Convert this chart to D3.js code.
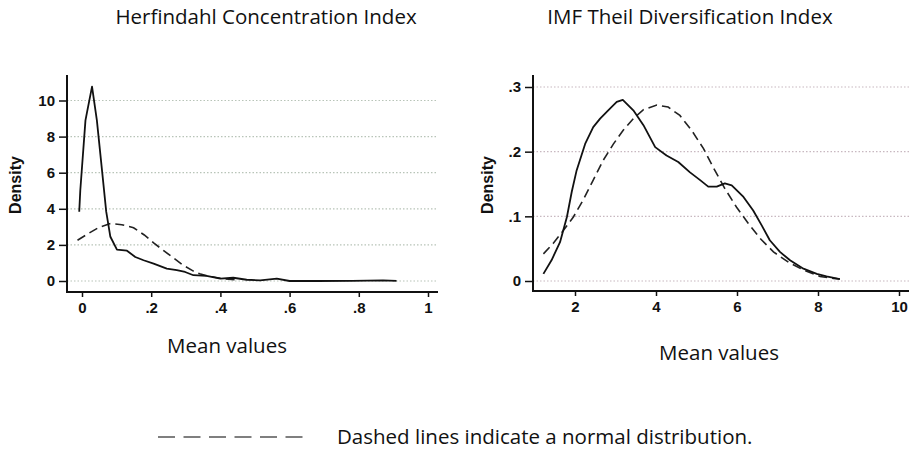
<!DOCTYPE html>
<html>
<head>
<meta charset="utf-8">
<script src="https://cdn.jsdelivr.net/npm/d3@7"></script>
<style>
  body { margin: 0; background: #fff; }
  svg { display: block; }
  .tick text { font-family: "Liberation Sans", Arial, sans-serif; font-size: 15px; font-weight: bold; fill: #111; }
  .tick line { stroke: #111; stroke-width: 1.5; }
  .lbl { font-family: "Open Sans", sans-serif; fill: #111; }
</style>
</head>
<body>
<script>
// Herfindahl Concentration Index - kernel density (solid) and normal (dashed)
var herfKernel = [
  [-0.008,3.84],[-0.005,5.0],[0.01,8.9],[0.015,9.4],[0.029,10.77],[0.043,8.9],[0.058,6.1],
  [0.07,3.84],[0.082,2.45],[0.101,1.74],[0.13,1.68],[0.154,1.33],[0.178,1.15],[0.207,0.96],
  [0.245,0.69],[0.274,0.6],[0.298,0.5],[0.322,0.32],[0.36,0.28],[0.4,0.13],[0.437,0.18],
  [0.476,0.07],[0.515,0.04],[0.563,0.13],[0.6,0.0],[0.68,0.0],[0.78,0.01],[0.87,0.04],[0.909,0.01]
];
var herfNormal = [
  [-0.013,2.26],[0.02,2.65],[0.05,2.98],[0.082,3.18],[0.115,3.12],[0.149,2.95],[0.18,2.55],
  [0.207,2.11],[0.235,1.7],[0.264,1.28],[0.29,0.9],[0.322,0.55],[0.34,0.4],[0.37,0.25],[0.4,0.15],[0.45,0.05]
];

// IMF Theil Diversification Index
var theilKernel = [
  [1.22,0.011],[1.42,0.032],[1.63,0.06],[1.80,0.099],[1.92,0.138],[2.04,0.171],[2.25,0.212],
  [2.45,0.238],[2.62,0.251],[2.82,0.264],[3.03,0.277],[3.18,0.280],[3.44,0.264],[3.69,0.241],
  [3.98,0.207],[4.26,0.194],[4.55,0.184],[4.84,0.168],[5.09,0.156],[5.29,0.146],[5.50,0.146],
  [5.70,0.151],[5.87,0.148],[6.16,0.130],[6.40,0.109],[6.61,0.086],[6.81,0.063],[7.06,0.045],
  [7.31,0.032],[7.64,0.019],[7.97,0.011],[8.21,0.007],[8.54,0.003]
];
var theilNormal = [
  [1.22,0.042],[1.46,0.058],[1.71,0.078],[1.96,0.099],[2.20,0.125],[2.45,0.156],[2.70,0.187],
  [2.95,0.212],[3.19,0.233],[3.44,0.251],[3.69,0.265],[4.02,0.272],[4.30,0.269],[4.59,0.256],
  [4.88,0.233],[5.17,0.205],[5.41,0.176],[5.70,0.143],[5.99,0.114],[6.28,0.089],[6.57,0.066],
  [6.90,0.045],[7.27,0.029],[7.64,0.017],[8.05,0.007],[8.38,0.004],[8.54,0.003]
];

var herfXTicks = [0, 0.2, 0.4, 0.6, 0.8, 1];
var herfYTicks = [0, 2, 4, 6, 8, 10];
var theilXTicks = [2, 4, 6, 8, 10];
var theilYTicks = [0, 0.1, 0.2, 0.3];

var svg = d3.select("body").append("svg").attr("width", 909).attr("height", 451);

function fmt(d) {
  var s = String(d);
  return s.replace(/^0\./, ".");
}

function renderPanel(cfg) {
  var x = d3.scaleLinear().domain(cfg.xDomain).range(cfg.xRange);
  var y = d3.scaleLinear().domain(cfg.yDomain).range(cfg.yRange);
  var g = svg.append("g");

  // dotted grid lines
  g.selectAll("line.grid").data(cfg.yTicks).enter().append("line")
    .attr("class", "grid")
    .attr("x1", cfg.axisX).attr("x2", cfg.gridEnd)
    .attr("y1", function(d){return y(d);}).attr("y2", function(d){return y(d);})
    .attr("stroke", cfg.gridColor).attr("stroke-width", 1.2).attr("stroke-dasharray", "1.5,2");

  var xAxis = d3.axisBottom(x).tickValues(cfg.xTicks).tickSize(5).tickPadding(5).tickFormat(fmt);
  var yAxis = d3.axisLeft(y).tickValues(cfg.yTicks).tickSize(8).tickPadding(4).tickFormat(fmt);

  g.append("g").attr("transform", "translate(0," + cfg.axisY + ")").call(xAxis)
    .call(function(s){ s.select(".domain").remove(); });
  g.append("g").attr("transform", "translate(" + cfg.axisX + ",0)").call(yAxis)
    .call(function(s){ s.select(".domain").remove(); });

  // axis lines
  g.append("line").attr("x1", cfg.axisX).attr("x2", cfg.axisX).attr("y1", cfg.axisTop).attr("y2", cfg.axisY + 1)
    .attr("stroke", "#111").attr("stroke-width", 2);
  g.append("line").attr("x1", cfg.axisX - 1).attr("x2", cfg.axisEnd).attr("y1", cfg.axisY).attr("y2", cfg.axisY)
    .attr("stroke", "#111").attr("stroke-width", 2);

  var line = d3.line().x(function(d){return x(d[0]);}).y(function(d){return y(d[1]);}).curve(d3.curveLinear);

  g.append("path").attr("d", line(cfg.normal)).attr("fill", "none")
    .attr("stroke", "#222").attr("stroke-width", 1.6).attr("stroke-dasharray", "9,5");
  g.append("path").attr("d", line(cfg.kernel)).attr("fill", "none")
    .attr("stroke", "#111").attr("stroke-width", 1.8).attr("stroke-linejoin", "round");

  // titles
  g.append("text").attr("class", "lbl").attr("x", cfg.titleX).attr("y", 24)
    .attr("text-anchor", "middle").style("font-size", "20.5px").text(cfg.title);
  g.append("text").attr("class", "lbl").attr("x", cfg.xLabelX).attr("y", cfg.xLabelY)
    .attr("text-anchor", "middle").style("font-size", "20.5px").text("Mean values");
  g.append("text").attr("transform", "translate(" + cfg.yLabelX + ",185) rotate(-90)")
    .attr("text-anchor", "middle")
    .style("font-family", "Liberation Sans, Arial, sans-serif").style("font-size", "16px")
    .style("font-weight", "bold").attr("fill", "#111")
    .text("Density");
}

renderPanel({
  title: "Herfindahl Concentration Index", titleX: 266,
  kernel: herfKernel, normal: herfNormal,
  xDomain: [0, 1], xRange: [82, 428], yDomain: [0, 10], yRange: [281, 100.5],
  xTicks: herfXTicks, yTicks: herfYTicks,
  axisX: 67, axisY: 292, axisTop: 75, axisEnd: 438, gridEnd: 438, gridColor: "#b8c4b8",
  xLabelX: 227, xLabelY: 353, yLabelX: 21
});

renderPanel({
  title: "IMF Theil Diversification Index", titleX: 690,
  kernel: theilKernel, normal: theilNormal,
  xDomain: [2, 10], xRange: [575, 899], yDomain: [0, 0.3], yRange: [281, 87],
  xTicks: theilXTicks, yTicks: theilYTicks,
  axisX: 533, axisY: 291, axisTop: 75, axisEnd: 909, gridEnd: 909, gridColor: "#c8b8c0",
  xLabelX: 719, xLabelY: 360, yLabelX: 493
});

// footnote legend
svg.append("line").attr("x1", 158).attr("x2", 304).attr("y1", 437).attr("y2", 437)
  .attr("stroke", "#555").attr("stroke-width", 1.5).attr("stroke-dasharray", "17,8.5");
svg.append("text").attr("class", "lbl").attr("x", 337).attr("y", 444)
  .style("font-size", "20.5px").text("Dashed lines indicate a normal distribution.");
</script>
</body>
</html>
